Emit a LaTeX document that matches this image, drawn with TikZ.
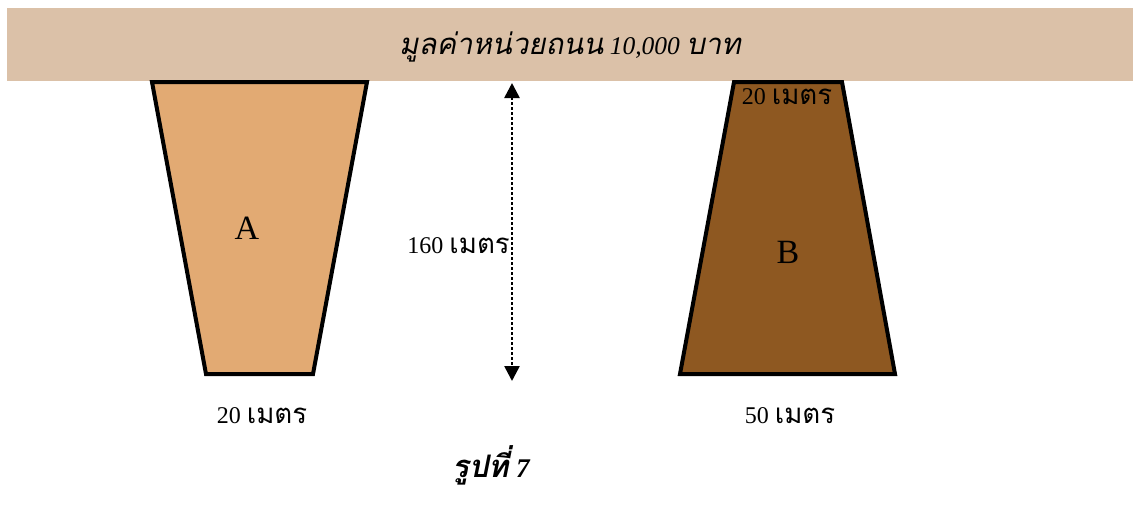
\documentclass[tikz,border=0pt]{standalone}
\usepackage{fontspec}
\setmainfont{Liberation Serif}
\newfontfamily\thaifont[Script=Thai,Scale=1.15]{Loma}
\newfontfamily\thaiit[Script=Thai,Scale=1.15,FakeSlant=0.2]{Loma}
\usetikzlibrary{arrows.meta,calc,positioning}
\definecolor{Road}{HTML}{DBC1A8}
\definecolor{LandA}{HTML}{E2AA73}
\definecolor{LandB}{HTML}{8E5821}

\begin{document}
\begin{tikzpicture}[x=1pt,y=-1pt,font=\fontsize{24}{28}\selectfont,
    plot/.style={draw=black,line width=4pt,line join=miter},
    lbl/.style={inner sep=1pt}]
        \useasboundingbox (0,0) rectangle (1133,504);
        % road along the top
        \fill[Road] (7,8) rectangle (1133,81);
        \node[lbl,font=\fontsize{25.5}{30}\selectfont] (road) at (570,47) {{\thaiit มูลค่าหน่วยถนน} {\itshape 10,000} {\thaiit บาท}};
        % the two plots
        \draw[plot,fill=LandA] (152,82) -- (367,82) -- (313,374) -- (206,374) -- cycle;
        \draw[plot,fill=LandB] (734,82) -- (842,82) -- (895,374) -- (680,374) -- cycle;
        \node[lbl,font=\fontsize{34}{38}\selectfont] (A) at (247,228) {A};
        \node[lbl,font=\fontsize{34}{38}\selectfont] (B) at (788,252) {B};
        \node[lbl] (topB) at (787,97) {20 {\thaifont เมตร}};
        \node[lbl] (botA) at (262,416) {20 {\thaifont เมตร}};
        \node[lbl] (botB) at (790,416) {50 {\thaifont เมตร}};
        % depth
        \coordinate (up) at (512,83);
        \coordinate (down) at (512,381);
        \draw[line width=2.6pt,dash pattern=on 2.6pt off 2.4pt,{Triangle[length=15pt,width=15pt]}-{Triangle[length=15pt,width=15pt]}] (up) -- (down);
        \node[lbl,anchor=east] (depth) at (511,246) {160 {\thaifont เมตร}};
        \node[lbl,font=\fontsize{27}{31}\selectfont] (cap) at (491,465) {{\thaiit\bfseries รูปที่} {\bfseries\itshape 7}};
\end{tikzpicture}
\end{document}
